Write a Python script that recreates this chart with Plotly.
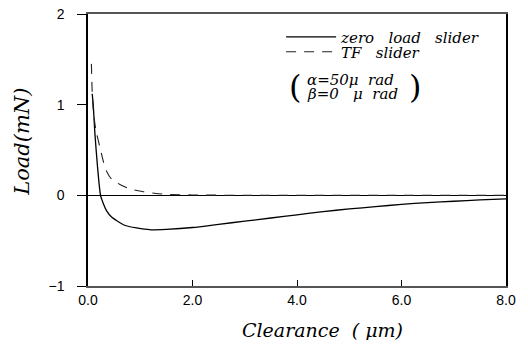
import plotly.graph_objects as go

# Data
x_zero = [0.08, 0.10, 0.13, 0.18, 0.24, 0.30, 0.36, 0.45, 0.55, 0.70, 0.93, 1.2, 1.5, 2.0, 2.5, 3.0,
          3.5, 4.0, 4.5, 5.0, 5.5, 6.0, 6.5, 7.0, 7.5, 8.0]
y_zero = [1.12, 1.00, 0.70, 0.33, 0.00, -0.10, -0.175, -0.24, -0.28, -0.33, -0.36, -0.38, -0.375,
          -0.355, -0.32, -0.285, -0.25, -0.215, -0.18, -0.15, -0.125, -0.10, -0.08, -0.065, -0.05, -0.04]

x_tf = [0.065, 0.08, 0.10, 0.15, 0.22, 0.30, 0.36, 0.45, 0.61, 0.80, 1.06, 1.3, 1.57, 2.0, 3.0,
        4.0, 5.0, 6.0, 7.0, 8.0]
y_tf = [1.45, 1.15, 0.95, 0.72, 0.55, 0.36, 0.26, 0.18, 0.12, 0.07, 0.04, 0.02, 0.01, 0.004, 0.0,
        0.0, 0.0, 0.0, 0.0, 0.0]

x_ticks = [0, 2, 4, 6, 8]
x_ticklabels = ["0.0", "2.0", "4.0", "6.0", "8.0"]
y_ticks = [-1, 0, 1, 2]
y_ticklabels = ["\u22121", "0", "1", "2"]

serif = "DejaVu Serif"
sans = "Liberation Sans, Arial, sans-serif"

fig = go.Figure()
fig.add_trace(go.Scatter(x=x_zero, y=y_zero, mode="lines", name="<i>zero   load   slider</i>",
                         legend="legend",
                         line=dict(color="black", width=1.3, shape="spline", smoothing=0.6)))
fig.add_trace(go.Scatter(x=x_tf, y=y_tf, mode="lines", name="<i>TF   slider</i>",
                         legend="legend2",
                         line=dict(color="#222", width=1.1, dash="10px,8px", shape="spline", smoothing=0.6)))

leg_font = dict(family=serif, size=15, color="black")
fig.update_layout(
    width=512, height=332,
    margin=dict(l=80, r=14, t=6, b=54),
    paper_bgcolor="white", plot_bgcolor="white",
    showlegend=True,
    legend=dict(x=0.462, y=0.976, xanchor="left", yanchor="top", bgcolor="rgba(0,0,0,0)",
                font=leg_font, itemwidth=50),
    legend2=dict(x=0.462, y=0.921, xanchor="left", yanchor="top", bgcolor="rgba(0,0,0,0)",
                 font=leg_font, itemwidth=50),
    xaxis=dict(range=[0, 8], tickvals=x_ticks, ticktext=x_ticklabels, ticks="inside", ticklen=6,
               tickcolor="black", showgrid=False, zeroline=False, showline=True, mirror=True,
               linecolor="#555", linewidth=1.5, automargin=False,
               tickfont=dict(family=sans, size=14, color="black")),
    yaxis=dict(range=[-1, 2], tickvals=y_ticks, ticktext=y_ticklabels, ticks="outside", ticklen=9,
               tickcolor="black", showgrid=False, zeroline=True, zerolinecolor="black", zerolinewidth=1.2,
               showline=True, linecolor="black", linewidth=1.5, mirror=True, automargin=False,
               ticklabelstandoff=10, ticklabeloverflow="allow",
               tickfont=dict(family=sans, size=14, color="black")),
)

# axis titles
fig.add_annotation(xref="paper", yref="paper", x=0.562, y=-0.16, xanchor="center", yanchor="middle",
                   text="<i>Clearance  ( \u03bcm)</i>", showarrow=False,
                   font=dict(family=serif, size=19, color="black"))
fig.add_annotation(xref="paper", yref="paper", x=-0.158, y=0.53, xanchor="center", yanchor="middle",
                   text="<i>Load(mN)</i>", showarrow=False, textangle=-90,
                   font=dict(family=serif, size=21, color="black"))

# parameter annotation
fig.add_annotation(xref="paper", yref="paper", x=0.52, y=(286 - 80) / 272, xanchor="left", yanchor="middle",
                   text="<i>\u03b1=50\u03bc  rad</i>", showarrow=False,
                   font=dict(family=serif, size=15, color="black"))
fig.add_annotation(xref="paper", yref="paper", x=0.52, y=(286 - 94) / 272, xanchor="left", yanchor="middle",
                   text="<i>\u03b2=0   \u03bc  rad</i>", showarrow=False,
                   font=dict(family=serif, size=15, color="black"))
fig.add_annotation(xref="paper", yref="paper", x=0.475, y=(286 - 87) / 272, xanchor="left", yanchor="middle",
                   text="(", showarrow=False, font=dict(family=serif, size=32, color="black"))
fig.add_annotation(xref="paper", yref="paper", x=0.762, y=(286 - 87) / 272, xanchor="left", yanchor="middle",
                   text=")", showarrow=False, font=dict(family=serif, size=32, color="black"))

fig.write_html("out.html")
